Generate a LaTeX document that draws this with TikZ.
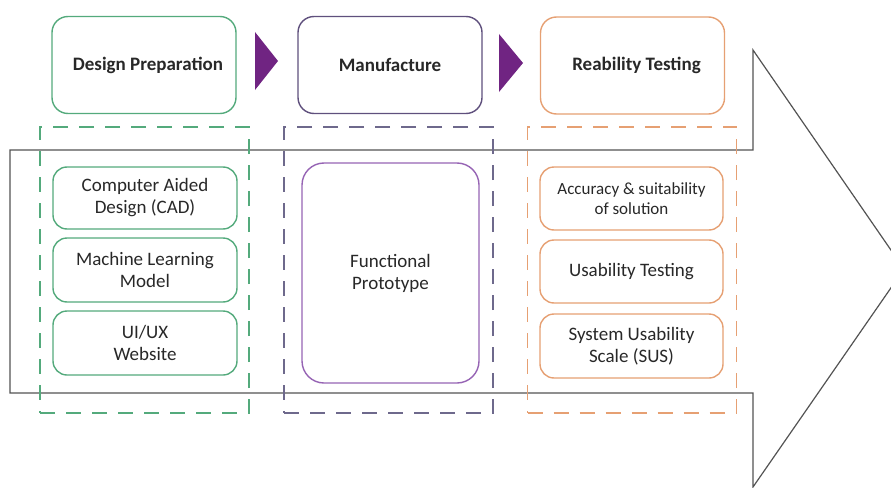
\documentclass[tikz,border=0pt]{standalone}
\usepackage{fontspec}
\setmainfont{Carlito}
\usepackage{tikz}
\usetikzlibrary{arrows.meta}

\definecolor{prepgreen}{RGB}{84,170,124}
\definecolor{makepurple}{RGB}{95,80,125}
\definecolor{protopurple}{RGB}{150,100,180}
\definecolor{dashpurple}{RGB}{110,105,140}
\definecolor{testorange}{RGB}{230,160,115}
\definecolor{chevron}{RGB}{112,36,130}
\definecolor{ink}{RGB}{40,40,40}

\begin{document}
\begin{tikzpicture}[x=1pt,y=-1pt,
		stage/.style={draw=#1,line width=1.4pt,rounded corners=16pt,fill=white,
			minimum width=184pt,minimum height=97pt,text=ink,
			font=\bfseries\fontsize{19}{23}\selectfont},
		group/.style={draw=#1,line width=1.4pt,dash pattern=on 15pt off 11pt,
			minimum width=209pt,minimum height=286pt},
		task/.style={draw=#1,line width=1.4pt,rounded corners=14pt,fill=white,
			minimum width=184pt,minimum height=63pt,align=center,text=ink,
			font=\fontsize{19}{22}\selectfont}]
		\clip (0,0) rectangle (891,487);
		% big process arrow behind everything
		\draw[ink!80,line width=1.2pt] (10,150) -- (753,150) -- (753,50) -- (904,269)
			-- (753,487) -- (753,393) -- (10,393) -- cycle;
		% stage headers
		\node[stage=prepgreen] (prep) at (144,65) {\hspace*{8pt}Design Preparation};
		\node[stage=makepurple] (make) at (390,65) {Manufacture};
		\node[stage=testorange] (test) at (632.5,65.5) {\hspace*{8pt}Reability Testing};
		% chevrons between stages
		\fill[chevron] (255,32) -- (278,61) -- (255,90) -- cycle;
		\fill[chevron] (499,34) -- (523,63) -- (499,92) -- cycle;
		% dashed groups
		\node[group=prepgreen] (prepgroup) at (144.5,270) {};
		\node[group=dashpurple] (makegroup) at (388.5,270) {};
		\node[group=testorange] (testgroup) at (632,270) {};
		% design preparation tasks
		\node[task=prepgreen,minimum height=62pt] (cad) at (145,198) {Computer Aided\\Design (CAD)};
		\node[task=prepgreen,minimum height=64pt] (ml) at (145,270) {Machine Learning\\Model};
		\node[task=prepgreen,minimum height=64pt] (web) at (145,343) {UI/UX\\Website};
		% manufacture
		\node[task=protopurple,rounded corners=22pt,minimum width=177pt,minimum height=220pt]
			(proto) at (390.5,273) {Functional\\Prototype};
		% testing tasks
		\node[task=testorange,minimum width=183pt,font=\fontsize{17}{20}\selectfont]
			(acc) at (631.5,198.5) {Accuracy \& suitability\\of solution};
		\node[task=testorange,minimum width=183pt] (usab) at (631.5,271.5) {Usability Testing};
		\node[task=testorange,minimum width=183pt,minimum height=64pt] (sus) at (631.5,346) {System Usability\\Scale (SUS)};
	\end{tikzpicture}
\end{document}
